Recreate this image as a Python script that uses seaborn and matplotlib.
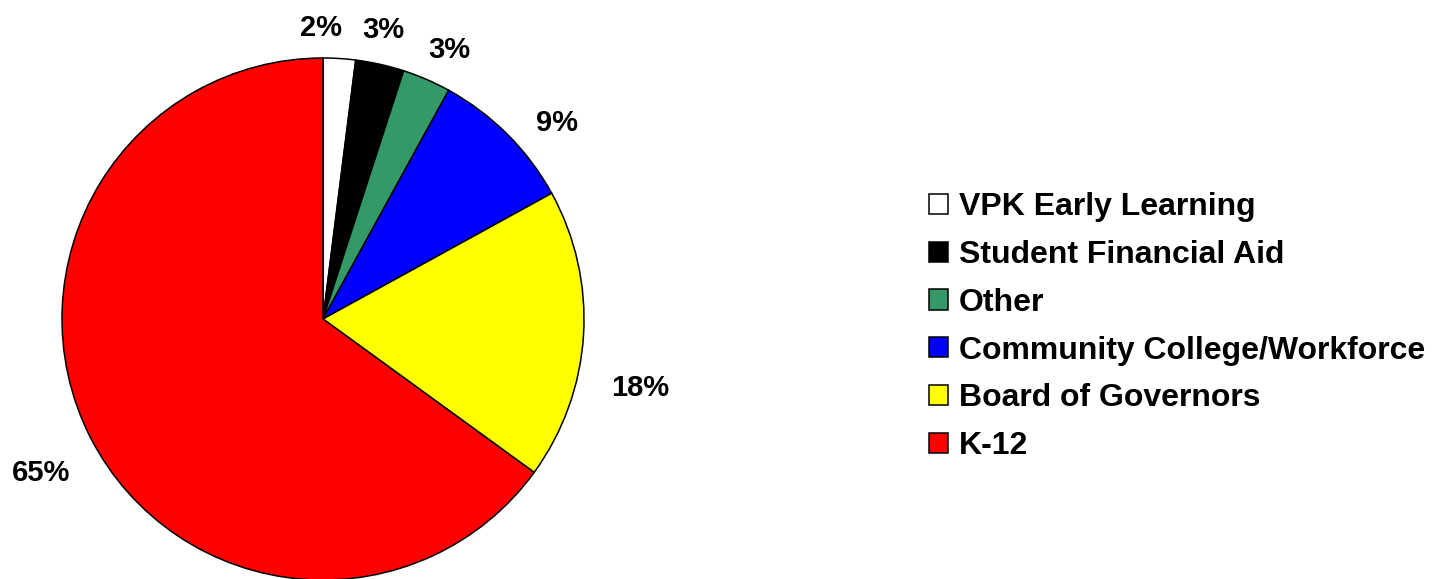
import numpy as np
import matplotlib
matplotlib.use("Agg")
import matplotlib.pyplot as plt
import seaborn as sns

# Budget shares by program area (percent)
categories = ["VPK Early Learning", "Student Financial Aid", "Other",
              "Community College/Workforce", "Board of Governors", "K-12"]
shares = [2, 3, 3, 9, 18, 65]
colors = ["#FFFFFF", "#000000", "#339966", "#0000FF", "#FFFF00", "#FF0000"]

# Layout tweaks for the outside value labels: angular nudge (deg, clockwise)
# and gap (px) between the rim and the label box
label_nudge_deg = [-4.0, -1.0, 1.5, 4.5, 8.0, -1.0]
label_gap_px = [20, 20, 18, 22, 32, 26]

sns.set_theme(style="white")
plt.rcParams["font.family"] = ["Liberation Sans", "DejaVu Sans"]
plt.rcParams["text.color"] = "black"

W, H = 1439, 579
fig = plt.figure(figsize=(W / 100, H / 100), dpi=100)
ax = fig.add_axes([0, 0, 1, 1])

cx, cy, R = 323, H - 319, 261
wedges, _ = ax.pie(shares, colors=colors, startangle=90, counterclock=False,
                   radius=R, center=(cx, cy),
                   wedgeprops=dict(edgecolor="black", linewidth=1.1))
ax.set_xlim(0, W)
ax.set_ylim(0, H)
ax.set_aspect("auto")
ax.axis("off")

# Value labels just outside each wedge
renderer = fig.canvas.get_renderer()
for w, v, nudge, gap in zip(wedges, shares, label_nudge_deg, label_gap_px):
    mid = np.deg2rad((w.theta1 + w.theta2) / 2 - nudge)
    ux, uy = np.cos(mid), np.sin(mid)
    t = ax.text(cx, cy, f"{v}%", ha="center", va="center",
                fontsize=21, fontweight="bold", color="black")
    bb = t.get_window_extent(renderer)
    d = R + gap + 0.5 * bb.width * abs(ux) + 0.5 * bb.height * abs(uy)
    # shift down slightly so the digits, not the descender box, are centred
    t.set_position((cx + d * ux, cy + d * uy - 4))

leg = ax.legend(wedges, categories, loc="center left",
                bbox_to_anchor=(929 / W, 1 - 326.75 / H),
                frameon=False, prop=dict(weight="bold", size=23),
                handlelength=0.6, handleheight=0.6, handletextpad=0.345,
                labelspacing=0.555, borderpad=0, borderaxespad=0)
for txt in leg.get_texts():
    txt.set_color("black")

fig.savefig("out.png", dpi=100, facecolor="white")
